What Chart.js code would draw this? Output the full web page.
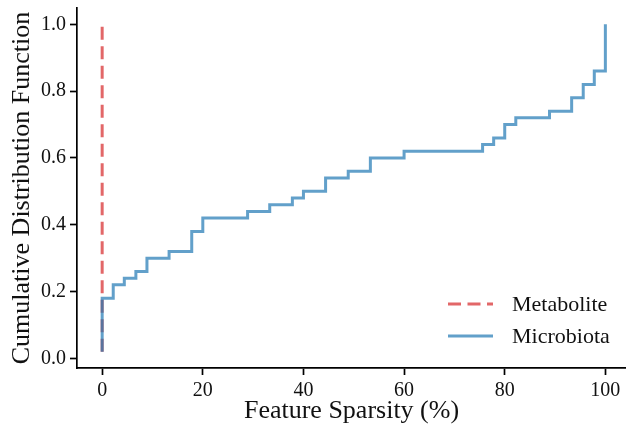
<!DOCTYPE html>
<html>
<head>
<meta charset="utf-8">
<script src="https://cdn.jsdelivr.net/npm/chart.js@4.4.0/dist/chart.umd.min.js"></script>
<style>
  html, body { margin: 0; padding: 0; background: #fff; }
  #wrap { width: 626px; height: 427px; }
</style>
</head>
<body>
<div id="wrap"><canvas id="cdf" width="626" height="427"></canvas></div>
<script>
// sparsity (%) where the cdf steps, and the cdf value after the step
const microX = [0, 0, 2.2, 4.4, 6.7, 8.9, 13.3, 17.8, 20.0, 28.9, 33.3, 37.8, 40.0, 44.4, 48.9, 53.3, 60.0, 75.6, 77.8, 80.0, 82.2, 88.9, 93.3, 95.6, 97.8, 100];
const microY = [0.02, 0.18, 0.22, 0.24, 0.26, 0.30, 0.32, 0.38, 0.42, 0.44, 0.46, 0.48, 0.50, 0.54, 0.56, 0.60, 0.62, 0.64, 0.66, 0.70, 0.72, 0.74, 0.78, 0.82, 0.86, 1.00];
const metaX = [0, 0];
const metaY = [0.02, 1.00];

const xTicks = [0, 20, 40, 60, 80, 100];
const yTicks = [0.0, 0.2, 0.4, 0.6, 0.8, 1.0];

const toPts = (xs, ys) => xs.map((x, i) => ({ x: x, y: ys[i] }));

const serif = "'Liberation Serif', 'DejaVu Serif', serif";

// legend drawn inside the plot, bottom right
const innerLegend = {
  id: 'innerLegend',
  afterDraw(chart) {
    const ctx = chart.ctx;
    const area = chart.chartArea;
    const x0 = area.right - 178;
    let y = area.bottom - 64;
    ctx.save();
    chart.data.datasets.forEach(ds => {
      ctx.beginPath();
      ctx.strokeStyle = ds.borderColor;
      ctx.lineWidth = ds.borderWidth;
      ctx.setLineDash(ds.borderDash || []);
      ctx.moveTo(x0, y);
      ctx.lineTo(x0 + 45, y);
      ctx.stroke();
      ctx.setLineDash([]);
      ctx.fillStyle = '#111';
      ctx.font = '22px ' + serif;
      ctx.textBaseline = 'middle';
      ctx.fillText(ds.label, x0 + 64, y + 1);
      y += 32;
    });
    ctx.restore();
  }
};

new Chart(document.getElementById('cdf').getContext('2d'), {
  type: 'scatter',
  data: {
    datasets: [
      {
        label: 'Metabolite',
        data: toPts(metaX, metaY),
        showLine: true,
        borderColor: 'rgba(214,39,40,0.7)',
        borderWidth: 3,
        borderDash: [13, 6.5],
        pointRadius: 0,
        order: 1
      },
      {
        label: 'Microbiota',
        data: toPts(microX, microY),
        showLine: true,
        stepped: 'before',
        borderColor: 'rgba(31,119,180,0.7)',
        borderWidth: 3,
        pointRadius: 0,
        order: 0
      }
    ]
  },
  options: {
    responsive: false,
    animation: false,
    layout: { padding: { top: 8, right: 0, left: 0, bottom: 0 } },
    plugins: { legend: { display: false }, tooltip: { enabled: false } },
    scales: {
      x: {
        type: 'linear',
        min: -5,
        max: 104.1,
        afterBuildTicks: s => { s.ticks = xTicks.map(v => ({ value: v })); },
        afterFit: s => { s.height = 59; s.paddingLeft = 0; s.paddingRight = 0; },
        grid: { drawOnChartArea: false, drawTicks: true, tickLength: 7, tickWidth: 1.7, tickColor: '#000' },
        border: { display: true, color: '#000', width: 1.7 },
        ticks: { autoSkip: false, maxRotation: 0, padding: 4, color: '#111', font: { family: serif, size: 20 } },
        title: { display: true, text: 'Feature Sparsity (%)', color: '#111', padding: { top: 0, bottom: 0 }, font: { family: serif, size: 26 } }
      },
      y: {
        min: -0.029,
        max: 1.049,
        afterBuildTicks: s => { s.ticks = yTicks.map(v => ({ value: v })); },
        afterFit: s => { s.width = 77; s.paddingTop = 0; s.paddingBottom = 0; },
        grid: { drawOnChartArea: false, drawTicks: true, tickLength: 7, tickWidth: 1.7, tickColor: '#000' },
        border: { display: true, color: '#000', width: 1.7 },
        ticks: { padding: 4, color: '#111', font: { family: serif, size: 20 }, callback: v => v.toFixed(1) },
        title: { display: true, text: 'Cumulative Distribution Function', color: '#111', padding: { top: 7, bottom: 0 }, font: { family: serif, size: 26 } }
      }
    }
  },
  plugins: [innerLegend]
});
</script>
</body>
</html>
